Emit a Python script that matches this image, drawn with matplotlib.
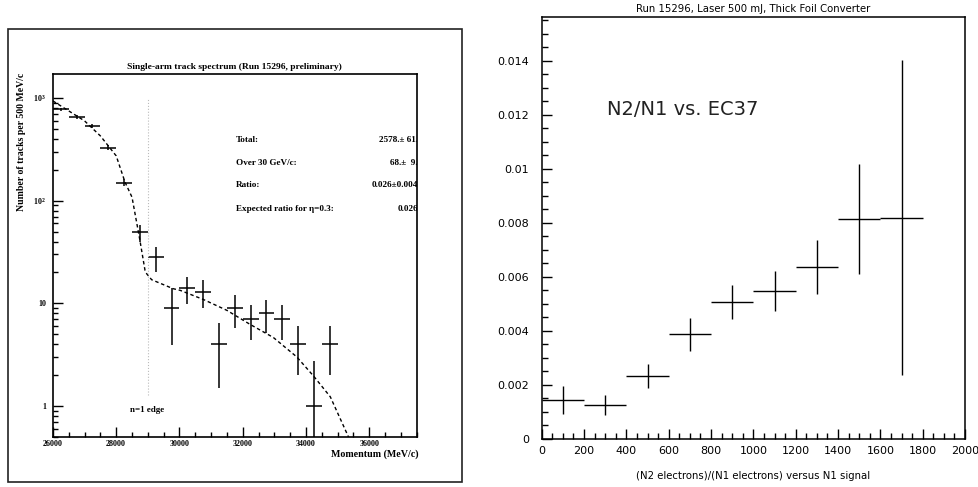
import numpy as np
import matplotlib
matplotlib.use('Agg')
import matplotlib.pyplot as plt
from matplotlib.ticker import FixedLocator, MultipleLocator, FixedFormatter, NullFormatter
from matplotlib.patches import Rectangle

plt.rcParams['mathtext.fontset'] = 'custom'
plt.rcParams['mathtext.rm'] = 'Liberation Serif:bold'
plt.rcParams['mathtext.it'] = 'Liberation Serif:bold'
plt.rcParams['mathtext.bf'] = 'Liberation Serif:bold'

# left panel: single-arm track spectrum, 500 MeV/c bins
mom_centers = [26250, 26750, 27250, 27750, 28250, 28750, 29250, 29750, 30250,
               30750, 31250, 31750, 32250, 32750, 33250, 33750, 34250, 34750]
mom_halfbin = 250
counts = [775, 654, 531, 327, 150, 49, 28, 9, 14, 13, 4, 9, 7, 8, 7, 4, 1, 4]
count_err = [28, 26, 23, 18, 12, 9, 7.7, 5.1, 4.2, 3.9, 2.5, 3.2, 2.6, 2.9, 2.6, 2.0, 1.75, 2.0]

# expected spectrum (dashed)
curve_x = [26000, 26500, 27000, 27500, 28000, 28280, 28500, 28750, 28910, 28965,
           29120, 29800, 30020, 30760, 31500, 32230, 32970, 33710, 34240, 34770, 35345]
curve_y = [935, 748, 598, 427, 273, 151, 108, 41, 21, 19.4,
           17.0, 13.9, 13.4, 10.9, 8.55, 6.25, 4.65, 3.01, 1.96, 1.23, 0.50]

edge_x = 29000
stat_labels = ['Total:', 'Over 30 GeV/c:', 'Ratio:', 'Expected ratio for η=0.3:']
stat_values = ['2578.± 61.', '68.±  9.', '0.026±0.004', '0.026']

# right panel: N2/N1 ratio vs N1 signal, 200-wide bins
n1_centers = [100, 300, 500, 700, 900, 1100, 1300, 1500, 1700]
n1_halfbin = 100
ratio = [0.00144, 0.00125, 0.00234, 0.00387, 0.00507, 0.00547, 0.00636, 0.00813, 0.00819]
ratio_err = [0.00053, 0.00038, 0.00045, 0.0006, 0.00062, 0.00075, 0.001, 0.00203, 0.00583]

fig = plt.figure(figsize=(9.79, 4.87), dpi=100)

serif = 'Liberation Serif'

# outer pad frame of the left plot
fig.patches.append(Rectangle((0.0082, 0.0103), 0.4637, 0.9302, transform=fig.transFigure,
                             fill=False, edgecolor='#222222', linewidth=1.2))

ax1 = fig.add_axes([0.0541, 0.1027, 0.3715, 0.7447])
ax1.set_yscale('log')
ax1.errorbar(mom_centers, counts, xerr=mom_halfbin, yerr=count_err, fmt='none',
             ecolor='black', elinewidth=1.1, capsize=0)
ax1.plot(curve_x, curve_y, color='black', linestyle=(0, (2.5, 2)), linewidth=1.0)
ax1.plot([edge_x, edge_x], [1.28, 1000], color='#bbbbbb', linestyle=':', linewidth=0.8)
ax1.text(28437, 0.915, 'n=1 edge', family=serif, fontweight='bold', fontsize=6.5,
         ha='left', va='center')
row_y = [0.819, 0.756, 0.695, 0.630]
for lab, val, yy in zip(stat_labels, stat_values, row_y):
    ax1.text(0.503, yy, lab, transform=ax1.transAxes, family=serif, fontweight='bold',
             fontsize=6.6, ha='left', va='center')
    ax1.text(1.004, yy, val, transform=ax1.transAxes, family=serif, fontweight='bold',
             fontsize=6.6, ha='right', va='center', clip_on=True)

ax1.set_xlim(26000, 37500)
ax1.set_ylim(0.5, 1700)
ax1.xaxis.set_major_locator(MultipleLocator(2000))
ax1.xaxis.set_minor_locator(MultipleLocator(500))
ax1.yaxis.set_major_locator(FixedLocator([1, 10, 100, 1000]))
ax1.yaxis.set_major_formatter(FixedFormatter(['1', '10', r'$10^{2}$', r'$10^{3}$']))
ax1.yaxis.set_minor_formatter(NullFormatter())
ax1.tick_params(which='both', direction='in', top=False, right=False, width=1.0)
ax1.tick_params(which='major', length=7)
ax1.tick_params(which='minor', length=3.5)
ax1.tick_params(axis='x', pad=2.5)
ax1.tick_params(axis='y', pad=5)
for lab in ax1.get_xticklabels() + ax1.get_yticklabels():
    lab.set_family(serif)
    lab.set_fontweight('bold')
    lab.set_fontsize(5.8)
for sp in ax1.spines.values():
    sp.set_linewidth(1.2)

fig.text(0.2399, 1 - 67 / 487, 'Single-arm track spectrum (Run 15296, preliminary)',
         family=serif, fontweight='bold', fontsize=6.8, ha='center', va='center')
fig.text(419 / 979, 1 - 454 / 487, 'Momentum (MeV/c)', family=serif, fontweight='bold',
         fontsize=7.2, ha='right', va='center')
fig.text(21.7 / 979, 1 - 73 / 487, 'Number of tracks per 500 MeV/c', family=serif,
         fontweight='bold', fontsize=7, rotation=90, ha='center', va='top')

# right plot
ax2 = fig.add_axes([0.5533, 0.0986, 0.4324, 0.8659])
ax2.errorbar(n1_centers, ratio, xerr=n1_halfbin, yerr=ratio_err, fmt='none',
             ecolor='black', elinewidth=1.0, capsize=0)
ax2.text(307, 0.0122, 'N2/N1 vs. EC37', fontsize=14, ha='left', va='center',
         color='#222222')
ax2.set_xlim(0, 2000)
ax2.set_ylim(0, 0.0156)
ax2.xaxis.set_major_locator(MultipleLocator(200))
ax2.xaxis.set_minor_locator(MultipleLocator(50))
ax2.yaxis.set_minor_locator(MultipleLocator(0.0005))
ax2.set_yticks([0, 0.002, 0.004, 0.006, 0.008, 0.01, 0.012, 0.014])
ax2.set_yticklabels(['0', '0.002', '0.004', '0.006', '0.008', '0.01', '0.012', '0.014'])
ax2.tick_params(which='both', direction='in', top=False, right=False, width=1.0, labelsize=8)
ax2.tick_params(which='major', length=7.5)
ax2.tick_params(which='minor', length=4)
ax2.tick_params(axis='x', pad=5)
ax2.tick_params(axis='y', pad=9)
for sp in ax2.spines.values():
    sp.set_linewidth(1.1)
ax2.set_title('Run 15296, Laser 500 mJ, Thick Foil Converter', fontsize=7.3, pad=4)
fig.text(753 / 979, 1 - 476 / 487, '(N2 electrons)/(N1 electrons) versus N1 signal',
         fontsize=7.3, ha='center', va='center')

fig.savefig('out.png', dpi=100)
